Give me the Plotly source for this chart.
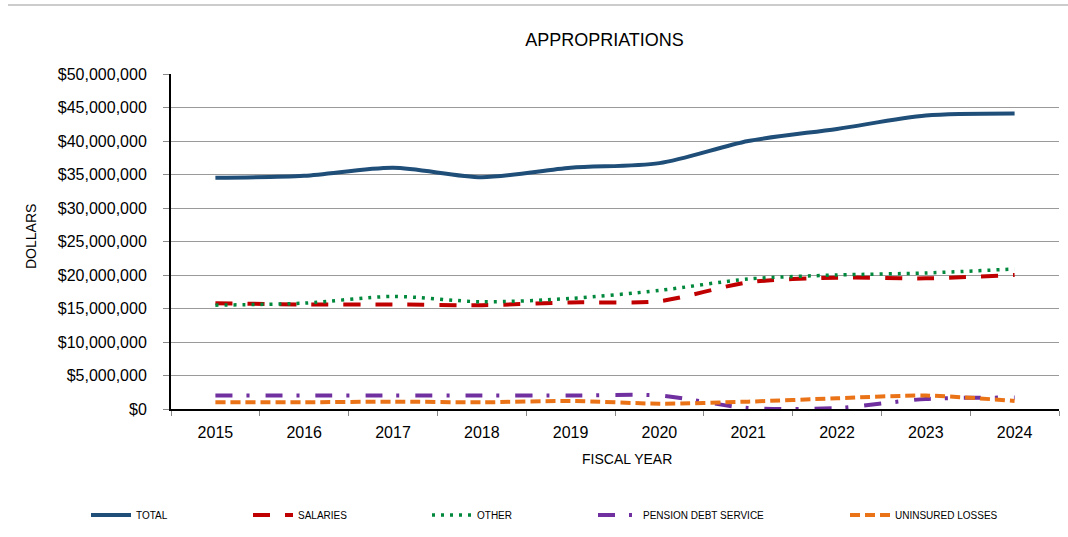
import plotly.graph_objects as go

years = ["2015", "2016", "2017", "2018", "2019", "2020", "2021", "2022", "2023", "2024"]
total = [34500000, 34800000, 36000000, 34600000, 36000000, 36700000, 40000000, 41800000, 43800000, 44100000]
salaries = [15800000, 15600000, 15600000, 15500000, 15900000, 16100000, 18900000, 19600000, 19500000, 20000000]
other = [15500000, 15800000, 16800000, 16000000, 16500000, 17700000, 19400000, 20000000, 20300000, 20900000]
pension = [2000000, 2000000, 2000000, 2000000, 2000000, 2000000, 150000, 150000, 1500000, 1700000]
uninsured = [1000000, 1000000, 1100000, 1000000, 1200000, 800000, 1100000, 1600000, 2000000, 1200000]

W, H = 1068, 537
PL, PR, PT, PB = 171, 1059, 74, 409
FONT = "Liberation Sans, Arial, sans-serif"

series = [
    ("TOTAL", total, "#1F4E79", 4, "solid", "legend", 138),
    ("SALARIES", salaries, "#C00000", 4, "17px,15px", "legend2", 300),
    ("OTHER", other, "#00883C", 3.5, "3px,6px", "legend3", 479),
    ("PENSION DEBT SERVICE", pension, "#7030A0", 4, "17px,14px,3px,16px", "legend4", 645),
    ("UNINSURED LOSSES", uninsured, "#EA7317", 4, "10px,5px", "legend5", 897),
]

fig = go.Figure()
legends = {}
for name, vals, color, width, dash, lg, text_x in series:
    fig.add_trace(go.Scatter(
        x=years, y=vals, name=name, mode="lines",
        line=dict(color=color, width=width, dash=dash, shape="spline", smoothing=0.8),
        legend=lg,
    ))
    legends[lg] = dict(
        xref="container", yref="container",
        x=(text_x - 52) / W, y=1 - 515 / H,
        xanchor="left", yanchor="middle",
        font=dict(family=FONT, size=10, color="#000"),
        itemwidth=40, bgcolor="rgba(0,0,0,0)", borderwidth=0,
    )

fig.update_layout(
    width=W, height=H,
    margin=dict(l=PL, r=W - PR, t=PT, b=H - PB, autoexpand=False),
    paper_bgcolor="white", plot_bgcolor="white",
    font=dict(family=FONT, size=16, color="#000"),
    title=dict(text="APPROPRIATIONS", x=604.5 / W, xref="container", xanchor="center",
               y=1 - 40 / H, yref="container", yanchor="middle",
               font=dict(family=FONT, size=18, color="#000")),
    showlegend=True,
    **legends,
)

fig.update_xaxes(
    type="category", range=[-0.5, len(years) - 0.5], tickson="boundaries",
    ticks="outside", ticklen=5, tickcolor="#888",
    showline=True, linecolor="#000", linewidth=2, showgrid=False, zeroline=False,
    tickfont=dict(family=FONT, size=16, color="#000"), ticklabelstandoff=8,
)
fig.update_yaxes(
    range=[0, 50000000], dtick=5000000, tickformat="$,.0f",
    ticks="outside", ticklen=6, tickcolor="#888",
    showline=True, linecolor="#000", linewidth=2,
    showgrid=True, gridcolor="#9a9a9a", gridwidth=1, zeroline=False,
    tickfont=dict(family=FONT, size=16, color="#000"), ticklabelstandoff=13,
)

fig.add_annotation(text="DOLLARS", textangle=-90, xref="paper", yref="paper",
                   x=(31 - PL) / (PR - PL), y=(PB - 237) / (PB - PT),
                   xanchor="center", yanchor="middle",
                   showarrow=False, font=dict(family=FONT, size=14, color="#000"))
fig.add_annotation(text="FISCAL YEAR", xref="paper", yref="paper",
                   x=(627 - PL) / (PR - PL), y=(PB - 459) / (PB - PT),
                   xanchor="center", yanchor="middle",
                   showarrow=False, font=dict(family=FONT, size=14, color="#000"))

fig.add_shape(type="line", xref="paper", yref="paper",
              x0=(8 - PL) / (PR - PL), x1=(W - PL) / (PR - PL),
              y0=(PB - 5) / (PB - PT), y1=(PB - 5) / (PB - PT),
              line=dict(color="#bbbbbb", width=1.5))

fig.write_html("out.html", config={"displayModeBar": False},
               post_script="document.body.style.margin='0';")
